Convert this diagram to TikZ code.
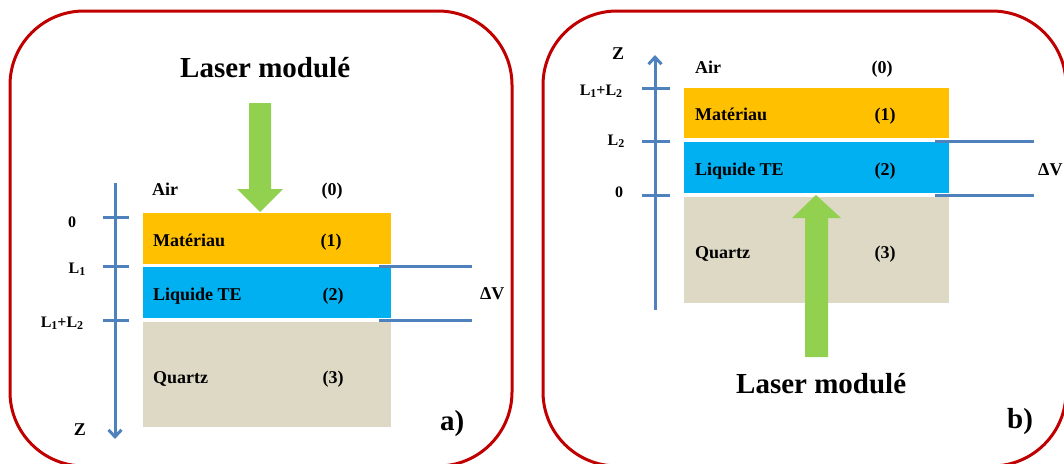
\documentclass[tikz,border=0pt]{standalone}
\usepackage{fontspec}
\setmainfont{Liberation Serif}
\usetikzlibrary{arrows.meta}
\definecolor{framecol}{HTML}{C00000}
\definecolor{lasercol}{HTML}{92D050}
\definecolor{matcol}{HTML}{FFC000}
\definecolor{liqcol}{HTML}{00B0F0}
\definecolor{qzcol}{HTML}{DDD9C4}
\definecolor{axcol}{HTML}{4F81BD}
\newcommand\lsub[1]{\raisebox{-0.35ex}{\fontsize{12}{12}\selectfont #1}}
\begin{document}
\begin{tikzpicture}[x=1pt,y=-1pt,
  panel/.style={draw=framecol, line width=3pt, rounded corners=74pt},
  layerbox/.style={anchor=north west, inner sep=0pt, outer sep=0pt, draw=none},
  lab/.style={font=\fontsize{18}{20}\selectfont\bfseries, inner sep=0pt},
  axlab/.style={font=\fontsize{16}{18}\selectfont\bfseries, inner sep=0pt},
  big/.style={font=\fontsize{29}{32}\selectfont\bfseries, inner sep=0pt},
  axisline/.style={draw=axcol, line width=3pt},
  axarrow/.style={axisline, -{Straight Barb[length=7pt,width=13pt,line width=3pt]}},
  tick/.style={draw=axcol, line width=3pt},
  dvline/.style={draw=axcol, line width=3pt},
  beam/.style={fill=lasercol, draw=none}
]
\useasboundingbox (0,0) rectangle (1064,463);
\clip (0,0) rectangle (1064,463);

% ================= panel a =================
\draw[panel] (10,11) rectangle (512,466);
\node[big, anchor=base west] (lasA) at (180,77) {Laser modulé};
\fill[beam] (249,103) -- (271,103) -- (271,189) -- (283,189) -- (260,212) -- (237,189) -- (249,189) -- cycle;

\node[layerbox, fill=matcol, minimum width=248pt, minimum height=51pt] (matA) at (143,213) {};
\node[layerbox, fill=liqcol, minimum width=248pt, minimum height=51pt] (liqA) at (143,267) {};
\node[layerbox, fill=qzcol, minimum width=248pt, minimum height=105pt] (qzA) at (143,322) {};

\node[lab, anchor=base west] (airA) at (152,195) {Air};
\node[lab, anchor=base] (n0A) at (332,195) {(0)};
\node[lab, anchor=base west] (tmatA) at (153,246) {Matériau};
\node[lab, anchor=base] (n1A) at (331,246) {(1)};
\node[lab, anchor=base west] (tliqA) at (153,300) {Liquide TE};
\node[lab, anchor=base] (n2A) at (333,300) {(2)};
\node[lab, anchor=base west] (tqzA) at (153,383) {Quartz};
\node[lab, anchor=base] (n3A) at (333,383) {(3)};

\coordinate (axA1) at (115,183);
\coordinate (axA2) at (115,439);
\draw[axarrow] (axA1) -- (axA2);
\coordinate (tA0l) at (103,217); \coordinate (tA0r) at (129,217);
\coordinate (tA1l) at (103,266); \coordinate (tA1r) at (129,266);
\coordinate (tA2l) at (103,320); \coordinate (tA2r) at (129,320);
\draw[tick] (tA0l) -- (tA0r);
\draw[tick] (tA1l) -- (tA1r);
\draw[tick] (tA2l) -- (tA2r);
\node[axlab, anchor=base] (l0A) at (72,227) {0};
\node[axlab, anchor=base] (l1A) at (77,273) {L\lsub{1}};
\node[axlab, anchor=base] (l2A) at (62,327) {L\lsub{1}+L\lsub{2}};
\node[lab, anchor=base] (zA) at (80,435) {Z};

\coordinate (dvA1l) at (379,266); \coordinate (dvA1r) at (472,266);
\coordinate (dvA2l) at (379,320); \coordinate (dvA2r) at (472,320);
\draw[dvline] (dvA1l) -- (dvA1r);
\draw[dvline] (dvA2l) -- (dvA2r);
\node[lab, anchor=base west] (dvA) at (480,299) {ΔV};
\node[big, anchor=base west] (tagA) at (440,430) {a)};

% ================= panel b =================
\draw[panel] (543,11) rectangle (1066,466);

\node[layerbox, fill=matcol, minimum width=265pt, minimum height=50pt] (matB) at (684,88) {};
\node[layerbox, fill=liqcol, minimum width=265pt, minimum height=51pt] (liqB) at (684,142) {};
\node[layerbox, fill=qzcol, minimum width=265pt, minimum height=106pt] (qzB) at (684,197) {};

\fill[beam] (805,357) -- (828,357) -- (828,218) -- (841,218) -- (816,195) -- (792,218) -- (805,218) -- cycle;
\node[big, anchor=base west] (lasB) at (736,393) {Laser modulé};

\node[lab, anchor=base west] (airB) at (695,73) {Air};
\node[lab, anchor=base] (n0B) at (882,73) {(0)};
\node[lab, anchor=base west] (tmatB) at (695,120) {Matériau};
\node[lab, anchor=base] (n1B) at (885,120) {(1)};
\node[lab, anchor=base west] (tliqB) at (695,175) {Liquide TE};
\node[lab, anchor=base] (n2B) at (885,175) {(2)};
\node[lab, anchor=base west] (tqzB) at (695,258) {Quartz};
\node[lab, anchor=base] (n3B) at (885,258) {(3)};

\coordinate (axB1) at (655,310);
\coordinate (axB2) at (655,55);
\draw[axarrow] (axB1) -- (axB2);
\coordinate (tB0l) at (642,195); \coordinate (tB0r) at (670,195);
\coordinate (tB1l) at (642,141); \coordinate (tB1r) at (670,141);
\coordinate (tB2l) at (642,88);  \coordinate (tB2r) at (670,88);
\draw[tick] (tB0l) -- (tB0r);
\draw[tick] (tB1l) -- (tB1r);
\draw[tick] (tB2l) -- (tB2r);
\node[axlab, anchor=base] (l0B) at (619,197) {0};
\node[axlab, anchor=base] (l1B) at (616,145) {L\lsub{2}};
\node[axlab, anchor=base] (l2B) at (601,95) {L\lsub{1}+L\lsub{2}};
\node[lab, anchor=base] (zB) at (618,59) {Z};

\coordinate (dvB1l) at (935,141); \coordinate (dvB1r) at (1034,141);
\coordinate (dvB2l) at (935,195); \coordinate (dvB2r) at (1034,195);
\draw[dvline] (dvB1l) -- (dvB1r);
\draw[dvline] (dvB2l) -- (dvB2r);
\node[lab, anchor=base west] (dvB) at (1038,175) {ΔV};
\node[big, anchor=base west] (tagB) at (1007,428) {b)};
\end{tikzpicture}
\end{document}
